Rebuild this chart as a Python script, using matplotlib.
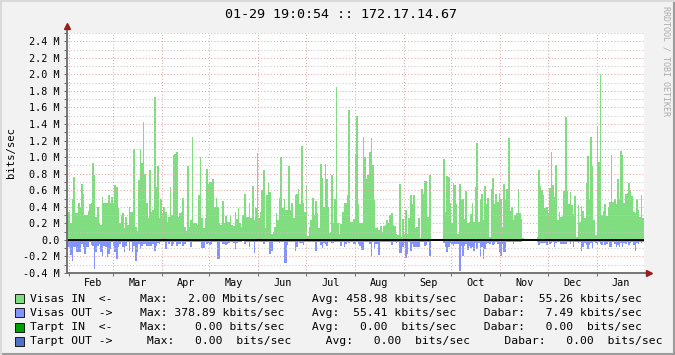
"""RRDtool-style yearly traffic graph for 172.17.14.67."""

import numpy as np
import matplotlib

matplotlib.use("Agg")
import matplotlib.pyplot as plt
from matplotlib import ticker
from matplotlib.lines import Line2D
from matplotlib.patches import Rectangle

MONO = "DejaVu Sans Mono"
W, H = 675, 355

TITLE = "01-29 19:0:54 :: 172.17.14.67"
WATERMARK = "RRDTOOL / TOBI OETIKER"
Y_LABEL = "bits/sec"

START = np.datetime64("2014-01-31")
MONTH_FIRST = np.datetime64("2014-02")
MONTH_LAST = np.datetime64("2015-01")
MONTHS = ["Feb", "Mar", "Apr", "May", "Jun", "Jul",
          "Aug", "Sep", "Oct", "Nov", "Dec", "Jan"]
Y_TICKS = [-0.4, -0.2, 0.0, 0.2, 0.4, 0.6, 0.8, 1.0, 1.2,
           1.4, 1.6, 1.8, 2.0, 2.2, 2.4]

# daily averages in Mbit/s, one value per day from START
visas_in = [
    # Feb
    0.34, 0.34, 0.20, 0.50, 0.76, 0.32, 0.32, 0.44, 0.40, 0.68, 0.56, 0.30,
    0.30, 0.35, 0.43, 0.45, 0.93, 0.79, 0.28, 0.40, 0.20, 0.18, 0.52, 0.45,
    0.45, 0.44, 0.54, 0.44, 0.52, 0.44, 0.66, 0.64, 0.38, 0.21, 0.30, 0.32,
    0.14, 0.28, 0.18, 0.40, 0.34, 0.34, 1.10, 0.16, 0.11, 0.72,
    # Mar / Apr
    1.10, 0.93, 1.42, 0.80, 0.44, 0.26, 0.84, 0.34, 0.36, 1.73, 0.64, 0.89,
    0.26, 0.49, 0.32, 0.40, 0.34, 0.22, 0.28, 0.64, 0.30, 1.02, 1.04, 1.06,
    0.28, 0.32, 0.34, 0.51, 0.16, 0.11, 0.89, 0.16, 0.24, 1.24, 0.20, 0.20,
    0.18, 0.54, 1.00, 0.26, 0.14, 0.26, 0.86, 0.68, 0.70,
    # May / Jun
    0.70, 0.74, 0.40, 0.51, 0.40, 0.20, 0.18, 0.47, 0.21, 0.29, 0.22, 0.22,
    0.29, 0.18, 0.17, 0.34, 0.25, 0.39, 0.21, 0.16, 0.30, 0.55, 0.28, 0.28,
    0.44, 0.26, 0.65, 0.24, 0.39, 1.05, 0.26, 0.34, 0.60, 0.85, 0.14, 0.54,
    0.69, 0.58, 0.07, 0.10, 0.16, 0.33, 0.24, 0.51, 1.00,
    # Jun / Jul
    0.39, 0.49, 0.36, 0.36, 0.89, 0.36, 0.44, 0.27, 0.54, 0.55, 0.61, 0.43,
    1.13, 0.44, 0.34, 0.65, 0.05, 0.16, 0.24, 0.51, 0.30, 0.47, 0.32, 0.14,
    0.92, 0.75, 0.40, 0.92, 0.74, 0.40, 0.08, 0.78, 0.21, 0.50, 1.85, 0.20,
    0.07, 0.19, 0.34, 0.45, 0.45, 0.54, 1.57, 0.22, 0.22,
    # Aug / Sep
    0.25, 1.04, 1.50, 0.43, 0.20, 0.20, 1.24, 1.00, 0.73, 0.78, 1.06, 1.23,
    0.90, 0.48, 0.14, 0.16, 0.12, 0.17, 0.09, 0.17, 0.18, 0.24, 0.21, 0.30,
    0.33, 0.18, 0.17, 0.07, 0.06, 0.68, 0.04, 0.25, 0.07, 0.36, 0.07, 0.27,
    0.54, 0.43, 0.54, 0.14, 0.15, 0.26, 0.02, 0.61, 0.56, 0.71,
    # Sep / Oct
    0.71, 0.28, 0.79, 0.00, 0.00, 0.00, 0.00, 0.00, 0.00, 0.00, 0.00, 0.98,
    0.34, 0.77, 0.76, 0.45, 0.20, 0.69, 0.66, 0.43, 0.07, 0.67, 0.48, 0.49,
    0.25, 0.59, 0.20, 0.22, 0.31, 0.44, 0.22, 0.64, 1.17, 0.22, 0.49, 0.56,
    0.24, 0.65, 0.43, 0.51, 0.04, 0.61, 0.75, 0.43, 0.56, 0.46,
    # Nov / Dec
    0.57, 0.49, 0.16, 0.67, 0.50, 0.61, 1.23, 0.35, 0.40, 0.24, 0.30, 0.32,
    0.61, 0.32, 0.25, 0.02, 0.00, 0.00, 0.00, 0.00, 0.00, 0.00, 0.00, 0.00,
    0.04, 0.84, 0.65, 0.60, 0.54, 0.39, 0.40, 0.32, 0.63, 1.06, 0.66, 0.52,
    0.91, 0.24, 0.34, 0.28, 0.29, 0.59, 1.49, 0.59, 0.43,
    # Dec / Jan
    0.58, 0.42, 0.31, 0.53, 0.03, 0.42, 0.22, 0.41, 0.35, 0.27, 0.69, 1.01,
    0.49, 1.24, 0.89, 0.24, 0.06, 1.37, 0.94, 2.00, 0.30, 0.35, 0.43, 0.29,
    0.40, 0.46, 1.03, 0.46, 0.50, 0.43, 0.73, 0.50, 1.08, 1.03, 0.44, 0.56,
    0.57, 0.69, 0.60, 0.53, 0.34, 0.33, 0.49, 0.36, 0.28, 0.54, 0.27,
]

visas_out = [
    0.08, 0.08, 0.18, 0.25, 0.09, 0.09, 0.15, 0.15, 0.15, 0.05, 0.09, 0.17,
    0.09, 0.09, 0.03, 0.06, 0.07, 0.35, 0.15, 0.07, 0.05, 0.15, 0.19, 0.07,
    0.09, 0.21, 0.17, 0.11, 0.03, 0.07, 0.15, 0.23, 0.09, 0.05, 0.03, 0.09,
    0.15, 0.07, 0.03, 0.13, 0.03, 0.15, 0.07, 0.25, 0.15, 0.05,
    0.11, 0.07, 0.05, 0.05, 0.07, 0.07, 0.07, 0.07, 0.05, 0.13, 0.07, 0.04,
    0.05, 0.03, 0.02, 0.02, 0.11, 0.03, 0.05, 0.03, 0.07, 0.05, 0.03, 0.07,
    0.05, 0.05, 0.03, 0.07, 0.05, 0.03, 0.02, 0.02, 0.09, 0.02, 0.02, 0.03,
    0.02, 0.02, 0.03, 0.10, 0.10, 0.03, 0.05, 0.04, 0.06,
    0.05, 0.02, 0.02, 0.02, 0.23, 0.23, 0.03, 0.05, 0.05, 0.06, 0.05, 0.04,
    0.03, 0.03, 0.04, 0.11, 0.04, 0.02, 0.02, 0.03, 0.01, 0.05, 0.02, 0.03,
    0.08, 0.03, 0.03, 0.16, 0.02, 0.02, 0.02, 0.02, 0.03, 0.05, 0.02, 0.02,
    0.03, 0.17, 0.13, 0.03, 0.03, 0.02, 0.02, 0.04, 0.03,
    0.03, 0.28, 0.28, 0.06, 0.02, 0.02, 0.02, 0.02, 0.14, 0.09, 0.03, 0.04,
    0.04, 0.06, 0.02, 0.03, 0.03, 0.02, 0.03, 0.02, 0.02, 0.13, 0.03, 0.03,
    0.06, 0.10, 0.04, 0.05, 0.07, 0.03, 0.03, 0.04, 0.04, 0.02, 0.02, 0.02,
    0.02, 0.07, 0.03, 0.09, 0.05, 0.03, 0.04, 0.02, 0.03,
    0.05, 0.05, 0.03, 0.05, 0.07, 0.12, 0.12, 0.03, 0.02, 0.03, 0.05, 0.20,
    0.03, 0.11, 0.05, 0.05, 0.18, 0.03, 0.03, 0.02, 0.02, 0.03, 0.03, 0.02,
    0.06, 0.03, 0.03, 0.04, 0.03, 0.16, 0.16, 0.09, 0.04, 0.22, 0.17, 0.03,
    0.13, 0.05, 0.08, 0.08, 0.08, 0.08, 0.03, 0.02, 0.03, 0.07,
    0.06, 0.03, 0.20, 0.00, 0.00, 0.00, 0.00, 0.00, 0.00, 0.00, 0.00, 0.04,
    0.09, 0.15, 0.09, 0.04, 0.05, 0.07, 0.05, 0.05, 0.05, 0.379, 0.07, 0.19,
    0.07, 0.05, 0.12, 0.07, 0.10, 0.09, 0.13, 0.04, 0.11, 0.04, 0.20, 0.09,
    0.23, 0.11, 0.05, 0.04, 0.05, 0.03, 0.06, 0.05, 0.03, 0.05,
    0.15, 0.20, 0.05, 0.15, 0.15, 0.02, 0.03, 0.02, 0.02, 0.05, 0.03, 0.02,
    0.03, 0.03, 0.03, 0.01, 0.00, 0.00, 0.00, 0.00, 0.00, 0.00, 0.00, 0.00,
    0.02, 0.06, 0.04, 0.04, 0.04, 0.04, 0.06, 0.03, 0.05, 0.04, 0.03, 0.09,
    0.04, 0.02, 0.02, 0.05, 0.05, 0.05, 0.05, 0.03, 0.03,
    0.05, 0.03, 0.08, 0.03, 0.03, 0.04, 0.03, 0.13, 0.08, 0.04, 0.06, 0.11,
    0.06, 0.04, 0.10, 0.03, 0.04, 0.06, 0.03, 0.05, 0.06, 0.03, 0.06, 0.05,
    0.03, 0.09, 0.09, 0.03, 0.05, 0.08, 0.06, 0.08, 0.04, 0.09, 0.04, 0.05,
    0.03, 0.06, 0.04, 0.03, 0.06, 0.13, 0.04, 0.05, 0.03, 0.04, 0.03,
]

LEGEND_ROWS = [
    "Visas IN  <-    Max:   2.00 Mbits/sec    Avg: 458.98 kbits/sec    Dabar:  55.26 kbits/sec",
    "Visas OUT ->    Max: 378.89 kbits/sec    Avg:  55.41 kbits/sec    Dabar:   7.49 kbits/sec",
    "Tarpt IN  <-    Max:    0.00 bits/sec    Avg:   0.00  bits/sec    Dabar:   0.00  bits/sec",
    "Tarpt OUT ->     Max:   0.00  bits/sec     Avg:   0.00  bits/sec     Dabar:   0.00  bits/sec",
]
LEGEND_COLORS = ["#80DD80", "#8393FF", "#00A000", "#5070C8"]

IN_COLOR = "#80DD80"
OUT_COLOR = "#8393FF"
BG = "#F2F2F2"
MAJOR_GRID = "#E6A8A8"
MINOR_GRID = "#C8C8C8"
AXIS_COLOR = "#6A6A6A"
ARROW_COLOR = "#9B1C1C"

# plot area in pixels
PX_LEFT, PX_RIGHT, PX_TOP, PX_BOTTOM = 67, 644, 33, 273


def fx(px):
    return px / W


def fy(py):
    return 1 - py / H


def main():
    n_days = len(visas_in)
    days = np.arange(n_days)
    month_starts = (
        np.arange(MONTH_FIRST, MONTH_LAST + 1).astype("datetime64[D]") - START
    ).astype(int)
    month_mids = month_starts + 15.5

    fig = plt.figure(figsize=(W / 100, H / 100), dpi=100, facecolor=BG)
    ax = fig.add_axes([
        fx(PX_LEFT), fy(PX_BOTTOM),
        (PX_RIGHT - PX_LEFT) / W, (PX_BOTTOM - PX_TOP) / H,
    ])
    ax.set_facecolor("white")

    # one bar per day, hard pixel edges like rrdtool's AREA
    ax.bar(days, visas_in, width=1.0, align="edge", color=IN_COLOR,
           linewidth=0, antialiased=False, zorder=1)
    ax.bar(days, -np.array(visas_out), width=1.0, align="edge",
           color=OUT_COLOR, linewidth=0, antialiased=False, zorder=1)

    ax.set_xlim(0, n_days)
    ax.set_ylim(-0.4, 2.5)

    # grid on top of the data, like rrdtool
    ax.set_axisbelow(False)
    ax.yaxis.set_major_locator(ticker.FixedLocator(Y_TICKS))
    ax.yaxis.set_minor_locator(ticker.MultipleLocator(0.1))
    ax.set_yticklabels(
        ["0.0" if abs(v) < 1e-9 else f"{v:.1f} M" for v in Y_TICKS],
        fontfamily=MONO, fontsize=7.3,
    )
    ax.set_xticks(month_starts)
    ax.set_xticklabels([])
    ax.set_xticks(month_mids, minor=True)
    ax.set_xticklabels(MONTHS, minor=True, fontfamily=MONO, fontsize=7.3)

    dots = (0, (1, 2))
    ax.grid(which="major", axis="both", color=MAJOR_GRID, linestyle=dots,
            linewidth=0.75, zorder=2)
    ax.grid(which="minor", axis="y", color=MINOR_GRID, linestyle=dots,
            linewidth=0.75, zorder=2)
    ax.axhline(0, color="black", linewidth=1.4, zorder=3)

    ax.tick_params(axis="y", which="both", length=2.5, width=0.7,
                   color=AXIS_COLOR, pad=2.5, labelcolor="black")
    ax.tick_params(axis="x", which="major", length=2.5, width=0.7,
                   color=AXIS_COLOR)
    ax.tick_params(axis="x", which="minor", length=0, pad=3.5,
                   labelcolor="black")

    for side in ["top", "right", "left", "bottom"]:
        ax.spines[side].set_visible(False)

    # axis lines with arrow heads
    ax.plot([0, 0], [-0.4, 2.58], color=AXIS_COLOR, linewidth=1.3,
            clip_on=False, zorder=4, solid_capstyle="butt")
    ax.plot([0, n_days + 3], [-0.4, -0.4], color=AXIS_COLOR, linewidth=1.3,
            clip_on=False, zorder=4, solid_capstyle="butt")
    ax.plot([0], [2.58], marker="^", markersize=5, color=ARROW_COLOR,
            clip_on=False, zorder=5)
    ax.plot([n_days + 3], [-0.4], marker=">", markersize=5, color=ARROW_COLOR,
            clip_on=False, zorder=5)

    fig.text(fx(341), fy(14), TITLE, ha="center", va="center",
             fontfamily=MONO, fontsize=9.6)
    fig.text(fx(11), fy(153), Y_LABEL, ha="center", va="center",
             rotation=90, fontfamily=MONO, fontsize=7.6)
    fig.text(fx(666), fy(61), WATERMARK, ha="center", va="center",
             rotation=270, fontfamily=MONO, fontsize=6, color="#ABABAB")

    for i, (row, color) in enumerate(zip(LEGEND_ROWS, LEGEND_COLORS)):
        y = 298.5 + i * 14.3
        fig.patches.append(Rectangle(
            (fx(15), fy(y + 4.5)), 9 / W, 9 / H, transform=fig.transFigure,
            facecolor=color, edgecolor="black", linewidth=0.6,
        ))
        fig.text(fx(30), fy(y), row, ha="left", va="center",
                 fontfamily=MONO, fontsize=8.16)

    # 3d-ish frame
    fig.lines.append(Line2D([0, 1], [fy(354), fy(354)], transform=fig.transFigure,
                            color="#9C9C9C", linewidth=1.5))
    fig.lines.append(Line2D([fx(674), fx(674)], [0, 1], transform=fig.transFigure,
                            color="#9C9C9C", linewidth=1.5))
    fig.lines.append(Line2D([0, 1], [fy(1), fy(1)], transform=fig.transFigure,
                            color="#DADADA", linewidth=1.5))
    fig.lines.append(Line2D([fx(1), fx(1)], [0, 1], transform=fig.transFigure,
                            color="#DADADA", linewidth=1.5))

    fig.savefig("out.png", dpi=100, facecolor=BG)
    plt.close(fig)


if __name__ == "__main__":
    main()
